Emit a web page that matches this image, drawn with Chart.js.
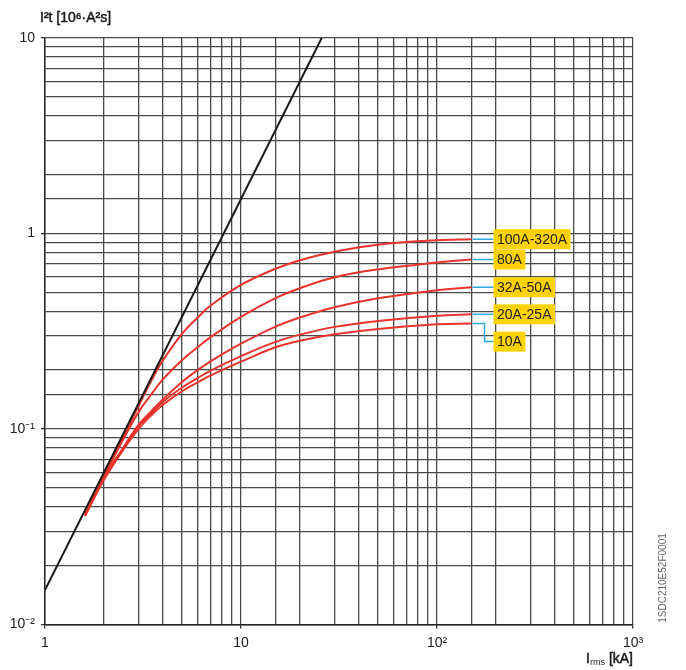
<!DOCTYPE html>
<html>
<head>
<meta charset="utf-8">
<script src="https://cdn.jsdelivr.net/npm/chart.js@4/dist/chart.umd.min.js"></script>
<style>
  html, body { margin: 0; padding: 0; background: #fff; }
</style>
</head>
<body>
<canvas id="chart" width="686" height="670"></canvas>
<script>
// prospective current Irms [kA] where the let-through curves were read
var currentX = [1.6, 2, 2.5, 3, 3.5, 4, 5, 6, 7, 10, 15, 20, 30, 50, 100, 150];
// let-through energy I2t [10^6 A2s] per rated current
var curve100A320A = [0.037, 0.058, 0.091, 0.131, 0.178, 0.225, 0.307, 0.371, 0.428, 0.546, 0.66, 0.73, 0.807, 0.877, 0.924, 0.935];
var curve80A      = [0.037, 0.057, 0.088, 0.122, 0.151, 0.18, 0.225, 0.262, 0.295, 0.375, 0.467, 0.525, 0.597, 0.655, 0.71, 0.736];
var curve32A50A   = [0.036, 0.056, 0.08, 0.105, 0.124, 0.142, 0.174, 0.2, 0.222, 0.273, 0.334, 0.372, 0.42, 0.466, 0.513, 0.531];
var curve20A25A   = [0.036, 0.056, 0.079, 0.103, 0.121, 0.138, 0.163, 0.182, 0.199, 0.236, 0.279, 0.304, 0.333, 0.357, 0.38, 0.386];
var curve10A      = [0.036, 0.055, 0.078, 0.1, 0.118, 0.133, 0.156, 0.173, 0.188, 0.221, 0.262, 0.283, 0.305, 0.325, 0.343, 0.346];
var curveLabels = ['100A-320A', '80A', '32A-50A', '20A-25A', '10A'];

// unlimited I2t line
var limitX = [1, 25.8];
var limitY = [0.015, 10];

var xTickLabels = ['1', '10', '10²', '10³'];   // 1 .. 1000
var yTickLabels = ['10⁻²', '10⁻¹', '1', '10']; // 0.01 .. 10

var FONT = '"Liberation Sans", Arial, sans-serif';

function toPoints(xs, ys) {
  return xs.map(function(x, i) { return {x: x, y: ys[i]}; });
}

function decadeLabel(value, labels, minExp) {
  var l = Math.log10(value);
  var r = Math.round(l);
  if (Math.abs(l - r) > 1e-9) return '';
  return labels[r - minExp] || '';
}

var redCurves = [curve100A320A, curve80A, curve32A50A, curve20A25A, curve10A];
var datasets = [{
  data: toPoints(limitX, limitY),
  borderColor: '#1a1a1a',
  borderWidth: 2,
  pointRadius: 0
}];
redCurves.forEach(function(c, i) {
  datasets.push({
    label: curveLabels[i],
    data: toPoints(currentX, c),
    borderColor: '#e8342c',
    borderWidth: 2,
    pointRadius: 0,
    tension: 0.4
  });
});

// yellow tags with blue leaders at the end of each curve
var tagPlugin = {
  id: 'tags',
  afterDatasetsDraw: function(chart) {
    var ctx = chart.ctx;
    var drop = [0, 0, 0, 0, 18];
    ctx.save();
    ctx.font = '14px ' + FONT;
    for (var i = 0; i < curveLabels.length; i++) {
      var meta = chart.getDatasetMeta(i + 1);
      var end = meta.data[meta.data.length - 1];
      var x0 = end.x + 1, y0 = end.y;
      var bx = end.x + 22, by = y0 + drop[i];
      ctx.strokeStyle = '#2aa8e0';
      ctx.lineWidth = 1.5;
      ctx.beginPath();
      ctx.moveTo(x0, y0);
      if (drop[i]) {
        ctx.lineTo(x0 + 12, y0);
        ctx.lineTo(x0 + 12, by);
      }
      ctx.lineTo(bx, by);
      ctx.stroke();
      var w = ctx.measureText(curveLabels[i]).width + 7;
      ctx.fillStyle = '#ffd200';
      ctx.fillRect(bx, by - 10, w, 20);
      ctx.fillStyle = '#222';
      ctx.textBaseline = 'middle';
      ctx.fillText(curveLabels[i], bx + 3.5, by + 1);
    }
    ctx.restore();
  }
};

// axis titles and drawing code
var textPlugin = {
  id: 'texts',
  afterDraw: function(chart) {
    var ctx = chart.ctx;
    var area = chart.chartArea;
    ctx.save();
    ctx.fillStyle = '#1a1a1a';
    ctx.strokeStyle = '#1a1a1a';
    ctx.lineWidth = 0.5;
    ctx.textBaseline = 'alphabetic';
    ctx.font = '14px ' + FONT;
    ctx.fillText('I²t [10⁶·A²s]', 40, 22);
    ctx.strokeText('I²t [10⁶·A²s]', 40, 22);

    // I_rms [kA]
    var big = '14px ' + FONT, small = '9px ' + FONT;
    ctx.font = big; var w1 = ctx.measureText('I').width; var w3 = ctx.measureText(' [kA]').width;
    ctx.font = small; var w2 = ctx.measureText('rms').width;
    var x = area.right - (w1 + w2 + w3), y = 663;
    ctx.font = big; ctx.fillText('I', x, y); ctx.strokeText('I', x, y);
    ctx.font = small; ctx.fillText('rms', x + w1, y + 2);
    ctx.font = big; ctx.fillText(' [kA]', x + w1 + w2, y); ctx.strokeText(' [kA]', x + w1 + w2, y);

    ctx.fillStyle = '#666';
    ctx.font = '10px ' + FONT;
    ctx.translate(666, 578);
    ctx.rotate(-Math.PI / 2);
    ctx.textAlign = 'center';
    ctx.fillText('1SDC210E52F0001', 0, 0);
    ctx.restore();
  }
};

new Chart(document.getElementById('chart'), {
  type: 'line',
  data: { datasets: datasets },
  options: {
    responsive: false,
    devicePixelRatio: 1,
    animation: false,
    layout: { padding: { left: 0, top: 38, right: 53, bottom: 0 } },
    plugins: { legend: { display: false }, tooltip: { enabled: false }, title: { display: false } },
    scales: {
      x: {
        type: 'logarithmic',
        min: 1,
        max: 1000,
        afterFit: function(s) { s.height = 45.5; },
        grid: {
          color: '#4a4a4a',
          lineWidth: 1.3,
          tickLength: 4,
          tickColor: function(c) { return decadeLabel(c.tick.value, xTickLabels, 0) ? '#333' : 'rgba(0,0,0,0)'; }
        },
        border: { color: '#222', width: 1.4 },
        ticks: {
          autoSkip: false,
          maxRotation: 0,
          padding: 6,
          color: '#222',
          font: { family: FONT, size: 14 },
          callback: function(v) { return decadeLabel(v, xTickLabels, 0); }
        }
      },
      y: {
        type: 'logarithmic',
        min: 0.01,
        max: 10,
        afterFit: function(s) { s.width = 45; },
        grid: {
          color: '#4a4a4a',
          lineWidth: 1.3,
          tickLength: 4,
          tickColor: function(c) { return decadeLabel(c.tick.value, yTickLabels, -2) ? '#333' : 'rgba(0,0,0,0)'; }
        },
        border: { color: '#222', width: 1.4 },
        ticks: {
          autoSkip: false,
          padding: 6,
          color: '#222',
          font: { family: FONT, size: 14 },
          callback: function(v) { return decadeLabel(v, yTickLabels, -2); }
        }
      }
    }
  },
  plugins: [tagPlugin, textPlugin]
});
</script>
</body>
</html>
